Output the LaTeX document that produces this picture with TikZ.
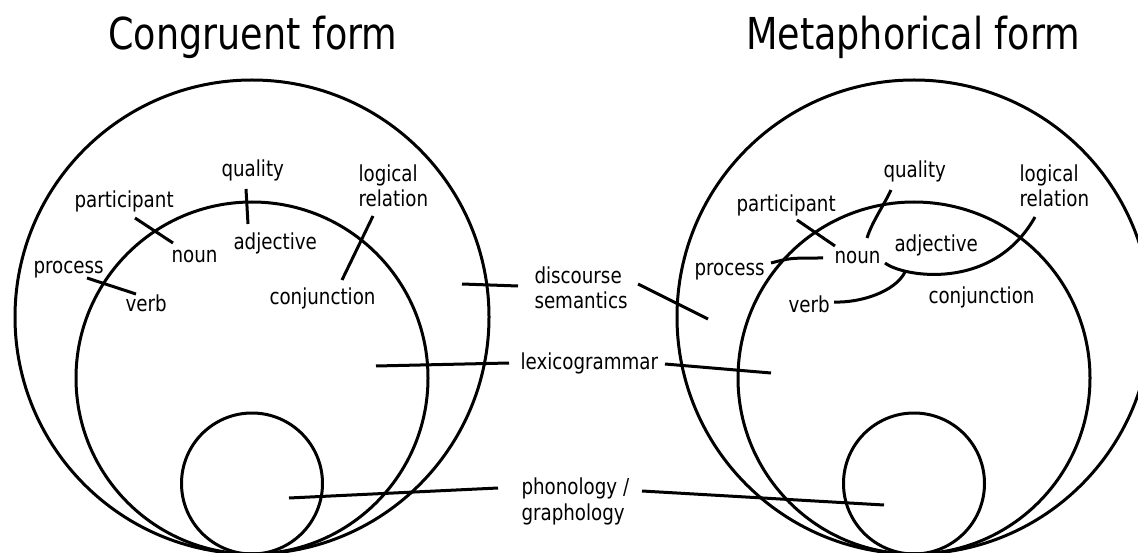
\documentclass[tikz,border=0pt]{standalone}
\usepackage{fontspec}
\setmainfont{DejaVu Sans}[FakeStretch=0.83]
\begin{document}
\begin{tikzpicture}[x=1pt, y=-1pt, line width=3pt,
  ring/.style={circle, draw, inner sep=0pt, outer sep=0pt, minimum size=#1},
  heading/.style={font=\fontsize{44}{50}\selectfont, inner sep=0pt, anchor=base},
  lbl/.style={font=\fontsize{22}{25.5}\selectfont, inner sep=0pt, anchor=base west, align=left},
  leader/.style={line cap=butt}]
\fill[white] (0,0) rectangle (1138,553);
\useasboundingbox (0,0) rectangle (1138,553);
\clip (0,0) rectangle (1138,553);

% headings
\node[heading] (tL) at (253,50) {Congruent form};
\node[heading] (tR) at (913,50) {Metaphorical form};

% strata: discourse semantics, lexicogrammar, phonology/graphology
\node[ring=474pt] (dsL) at (252,317) {};
\node[ring=352pt] (lgL) at (252,378) {};
\node[ring=141pt] (pgL) at (252,483.5) {};
\node[ring=474pt] (dsR) at (914,317) {};
\node[ring=352pt] (lgR) at (914,378) {};
\node[ring=141pt] (pgR) at (914,483.5) {};

% shared stratum labels (multi-line labels sit on their last baseline)
\node[lbl] (disc) at (533,309) {discourse\\semantics};
\node[lbl] (lexi) at (519,369) {lexicogrammar};
\node[lbl] (phon) at (520,520) {phonology /\\graphology};

\coordinate (dL1) at (462,284); \coordinate (dL2) at (518,286);
\coordinate (lL1) at (376,366); \coordinate (lL2) at (509,363);
\coordinate (pL1) at (289,498); \coordinate (pL2) at (498,488);
\coordinate (dR1) at (638,284); \coordinate (dR2) at (708,319);
\coordinate (lR1) at (665,364); \coordinate (lR2) at (771,373);
\coordinate (pR1) at (642,491); \coordinate (pR2) at (884,505);
\draw[leader] (dL1) -- (dL2);
\draw[leader] (lL1) -- (lL2);
\draw[leader] (pL1) -- (pL2);
\draw[leader] (dR1) -- (dR2);
\draw[leader] (lR1) -- (lR2);
\draw[leader] (pR1) -- (pR2);

% congruent realisations
\node[lbl] (qualL) at (220,177) {quality};
\node[lbl] (adjL)  at (232,250) {adjective};
\node[lbl] (partL) at (73,208)  {participant};
\node[lbl] (nounL) at (170,263) {noun};
\node[lbl] (procL) at (32,274)  {process};
\node[lbl] (verbL) at (124,312) {verb};
\node[lbl] (logL)  at (357,207) {logical\\relation};
\node[lbl] (conjL) at (268,305) {conjunction};

\coordinate (qa1) at (246,189); \coordinate (qa2) at (248,224);
\coordinate (pn1) at (135,218); \coordinate (pn2) at (173,243);
\coordinate (pv1) at (87,278);  \coordinate (pv2) at (136,294);
\coordinate (lc1) at (373,216); \coordinate (lc2) at (342,280);
\draw[leader] (qa1) -- (qa2);
\draw[leader] (pn1) -- (pn2);
\draw[leader] (pv1) -- (pv2);
\draw[leader] (lc1) -- (lc2);

% metaphorical realisations
\node[lbl] (qualR) at (882,178) {quality};
\node[lbl] (partR) at (735,212) {participant};
\node[lbl] (nounR) at (833,264) {noun};
\node[lbl] (procR) at (693,276) {process};
\node[lbl] (adjR)  at (893,252) {adjective};
\node[lbl] (verbR) at (787,313) {verb};
\node[lbl] (conjR) at (927,304) {conjunction};
\node[lbl] (logR)  at (1018,207) {logical\\relation};

\coordinate (qn1) at (891,190); \coordinate (qn2) at (867,238);
\coordinate (rn1) at (797,220); \coordinate (rn2) at (835,246);
\coordinate (sn1) at (771,263); \coordinate (sn2) at (823,258);
\coordinate (nl1) at (885,263); \coordinate (nl2) at (1035,217);
\coordinate (vb1) at (834,302); \coordinate (vb2) at (905,272);
\draw[leader] (qn1) .. controls (884,205) and (872,222) .. (qn2);
\draw[leader] (rn1) -- (rn2);
\draw[leader] (sn1) .. controls (790,258) .. (sn2);
\draw[leader] (nl1) .. controls (903,277) and (993,292) .. (nl2);
\draw[leader] (vb1) .. controls (860,303) and (895,292) .. (vb2);
\end{tikzpicture}
\end{document}
